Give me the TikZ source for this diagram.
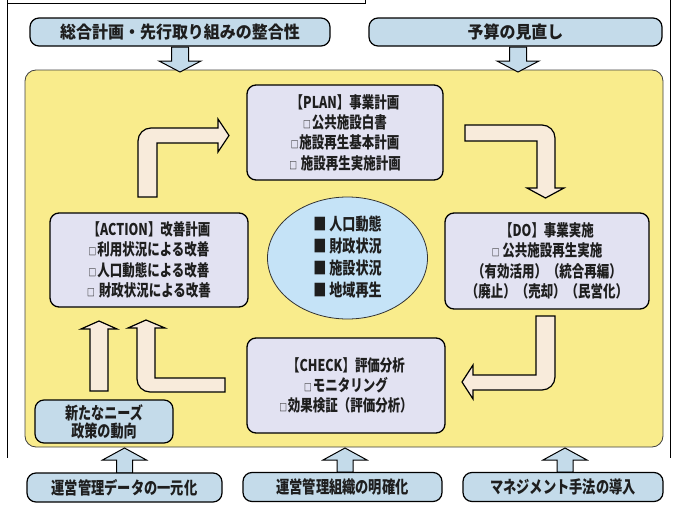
\documentclass[tikz,border=0pt]{standalone}
\usepackage{fontspec}
\newfontfamily\jpn{Noto Sans CJK JP}[FakeStretch=0.77]
\newfontfamily\jpnw{Noto Sans CJK JP}[FakeStretch=0.94]
\definecolor{panelyellow}{RGB}{249,236,140}
\definecolor{lav}{RGB}{226,226,242}
\definecolor{lblue}{RGB}{196,219,234}
\definecolor{ellblue}{RGB}{197,227,247}
\definecolor{beige}{RGB}{248,235,219}
\definecolor{txt}{RGB}{30,30,30}
\newcommand\sqb{{\fontsize{10}{10}\selectfont □}\kern1pt}
\begin{document}
\begin{tikzpicture}[x=1pt,y=-1pt,
  pdbox/.style={draw=black, line width=1.3pt, rounded corners=9pt, fill=lav, align=center, text=txt, inner sep=0pt,
    font={\jpn\bfseries\fontsize{16.2}{20.3}\selectfont}},
  bluebox/.style={draw=black, line width=1.2pt, rounded corners=9pt, fill=lblue, align=center, text=txt, inner sep=0pt},
  blockarrow/.style={draw=black, line width=1.2pt, fill=beige, line join=miter},
  bluearrow/.style={draw=black, line width=1pt, fill=lblue, line join=miter},
  frameline/.style={draw=black, line width=1pt}]
\useasboundingbox (0,0) rectangle (678,514);

% outer frame fragments
\draw[frameline] (7,0) -- (7,458);
\draw[frameline] (7,3.5) -- (365,3.5) -- (365,0);
\draw[frameline] (670,0) -- (670,458);

% top boxes
\node[bluebox, minimum width=300pt, minimum height=28pt, font={\jpnw\bfseries\fontsize{17}{18}\selectfont}] (top1) at (180,32) {総合計画・先行取り組みの整合性};
\node[bluebox, minimum width=293pt, minimum height=28pt, font={\jpnw\bfseries\fontsize{17}{18}\selectfont}] (top2) at (515.5,32) {予算の見直し};

% yellow panel
\node[draw=black!75, line width=0.8pt, fill=panelyellow, rounded corners=11pt, minimum width=638pt, minimum height=377pt, inner sep=0pt] (panel) at (344,258.5) {};

% down arrows
\draw[bluearrow] (171.5,47) -- (171.5,61) -- (159,61) -- (180,72) -- (201,61) -- (188.5,61) -- (188.5,47) -- cycle;
\draw[bluearrow] (509.5,47) -- (509.5,61) -- (497,61) -- (518,72) -- (539,61) -- (526.5,61) -- (526.5,47) -- cycle;

% PDCA boxes
\node[pdbox, minimum width=196pt, minimum height=95pt] (plan) at (345,132.5)
  {【PLAN】事業計画\\\sqb 公共施設白書\\\sqb 施設再生基本計画\\\sqb\hspace{3pt}施設再生実施計画};
\node[pdbox, minimum width=198pt, minimum height=94pt] (action) at (149,260)
  {【ACTION】改善計画\\\sqb 利用状況による改善\\\sqb 人口動態による改善\\\sqb\hspace{3pt}財政状況による改善};
\node[pdbox, minimum width=204pt, minimum height=96pt] (do) at (547,261)
  {【DO】事業実施\\\sqb\hspace{2pt}公共施設再生実施\\（有効活用）（統合再編）\\（廃止）（売却）（民営化）};
\node[pdbox, minimum width=198pt, minimum height=95pt] (check) at (346,385.5)
  {【CHECK】評価分析\\\sqb モニタリング\\\sqb 効果検証（評価分析）};

% central ellipse
\draw[draw=black!80, line width=0.8pt, fill=ellblue] (347.5,258) ellipse [x radius=80pt, y radius=61pt];
\node[align=left, text=txt, inner sep=0pt, font={\jpn\bfseries\fontsize{17}{22}\selectfont}] (focus) at (347.5,257)
  {■ 人口動態\\■ 財政状況\\■ 施設状況\\■ 地域再生};

% cycle arrows
\draw[blockarrow] (138,197) [rounded corners=13pt] -- (138,128) [sharp corners] -- (218,128) -- (218,119) -- (229,135.5) -- (218,152) -- (218,143) -- (157,143) -- (157,197) -- cycle;
\draw[blockarrow] (465,125) [rounded corners=13pt] -- (555,125) [sharp corners] -- (555,188) -- (564,188) -- (545.5,198) -- (527,188) -- (537,188) -- (537,141) -- (465,141) -- cycle;
\draw[blockarrow] (536,316) -- (555,316) [rounded corners=13pt] -- (555,390) [sharp corners] -- (473,390) -- (473,399) -- (462,382) -- (473,365) -- (473,375) -- (536,375) -- cycle;
\draw[blockarrow] (225,378) -- (225,392) [rounded corners=13pt] -- (137,392) [sharp corners] -- (137,328) -- (128,328) -- (146,320) -- (165,328) -- (155,328) -- (155,378) -- cycle;
\draw[blockarrow] (90,391) -- (90,329) -- (81,329) -- (99,321) -- (117,329) -- (108,329) -- (108,391) -- cycle;

% needs box
\node[bluebox, minimum width=138pt, minimum height=43pt, font={\jpn\bfseries\fontsize{17}{18}\selectfont}] (needs) at (104,421.5)
  {新たなニーズ\\政策の動向};

% bottom up arrows
\draw[bluearrow] (116.5,473) -- (116.5,460) -- (102.5,460) -- (124.5,448) -- (146.5,460) -- (132.5,460) -- (132.5,473) -- cycle;
\draw[bluearrow] (337,472) -- (337,460) -- (323,460) -- (345,448) -- (367,460) -- (353,460) -- (353,472) -- cycle;
\draw[bluearrow] (557,472) -- (557,460) -- (543,460) -- (565,448) -- (587,460) -- (573,460) -- (573,472) -- cycle;

% bottom boxes
\node[bluebox, minimum width=195pt, minimum height=29pt, font={\jpn\bfseries\fontsize{17.2}{18}\selectfont}] (bot1) at (124.5,487.5) {運営管理データの一元化};
\node[bluebox, minimum width=199pt, minimum height=29pt, font={\jpn\bfseries\fontsize{17.2}{18}\selectfont}] (bot2) at (342.5,487) {運営管理組織の明確化};
\node[bluebox, minimum width=200pt, minimum height=29pt, font={\jpn\bfseries\fontsize{17.2}{18}\selectfont}] (bot3) at (563,487) {マネジメント手法の導入};
\end{tikzpicture}
\end{document}
